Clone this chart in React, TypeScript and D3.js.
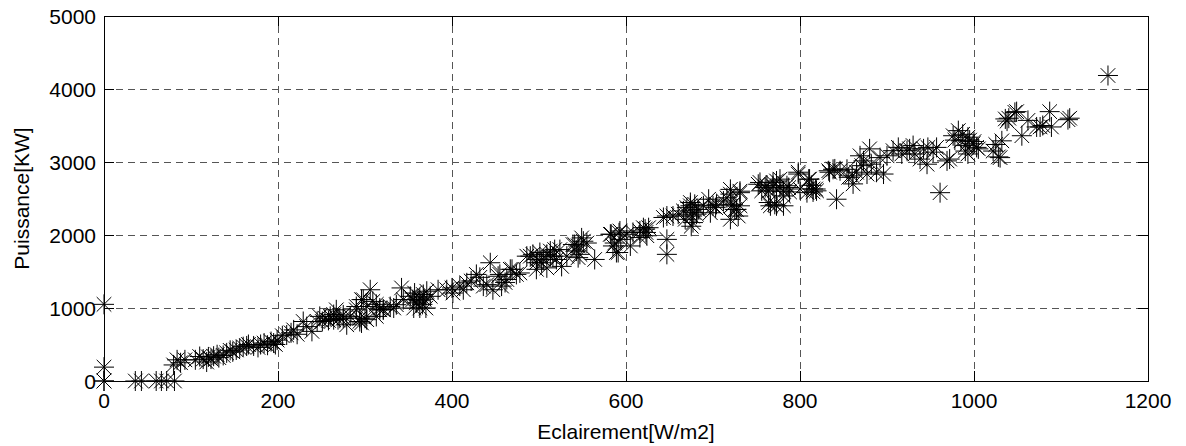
import React from "react";
import * as d3 from "d3";

const eclairement: number[] = [
  0, 0, 0, 0, 36, 43, 60, 66, 72, 81, 80, 84, 93, 88,
  105, 110, 114, 118, 120, 123, 126, 130, 132, 137, 141, 145, 148, 152, 156, 160, 164, 166, 172, 177, 180, 184, 188, 192, 195, 199, 197,
  205, 210, 215, 218, 222, 229, 233, 239, 245, 248, 251, 254, 258, 260, 264, 264, 267, 269, 271, 275, 275, 279, 283, 290, 290, 294, 294, 296, 296, 298, 300, 302, 302, 306, 309, 313, 313, 317, 317, 321, 321,
  329, 333, 336, 342, 344, 352, 355, 356, 357, 359, 363, 363, 367, 371, 375, 362, 366, 370, 368, 384, 394, 400, 401, 409, 413, 417, 422,
  428, 432, 436, 440, 444, 447, 453, 455, 457, 461, 463, 467, 469, 474, 478, 486, 490, 493, 497, 497, 498, 501, 503, 505, 509, 509, 513, 513, 516, 518, 520, 524, 526, 532,
  539, 541, 543, 545, 545, 547, 549, 551, 555, 564, 582, 583, 585, 587, 589, 591, 592, 593, 594, 601, 605, 608, 616, 616, 620, 622, 623, 624, 626, 643, 647, 647, 647,
  654, 660, 666, 668, 670, 674, 674, 675, 676, 677, 677, 679, 681, 683, 689, 695, 697, 700, 703, 704, 712, 716, 720, 720, 720, 721, 723, 725, 727, 729, 731, 731, 731,
  752, 754, 756, 760, 762, 764, 764, 766, 769, 769, 771, 773, 773, 773, 777, 777, 781, 781, 781, 785, 787, 788, 798, 798, 800, 808, 810, 811, 813, 815, 815, 818, 819,
  833, 834, 838, 840, 842, 846, 854, 856, 860, 861, 865, 869, 871, 873, 877, 880, 882, 888, 892, 896, 900, 907, 913, 917, 923, 926, 930, 932, 938, 942, 946, 947, 953, 957, 961, 969, 976, 982, 985, 990, 993, 999, 1003, 990, 995, 1000, 978, 987, 972, 993, 1005,
  1022, 1025, 1028, 1030, 1032, 1036, 1038, 1040, 1047, 1049, 1055, 1062, 1072, 1076, 1079, 1087, 1089, 1108, 1110, 1154,
];

const puissance: number[] = [
  0, 0, 190, 1050, 0, 0, 0, 0, 0, 0, 220, 290, 290, 250,
  290, 335, 300, 260, 330, 300, 340, 360, 320, 350, 385, 420, 400, 425, 450, 470, 480, 500, 480, 460, 500, 520, 490, 540, 520, 560, 500,
  620, 630, 660, 700, 640, 815, 745, 680, 815, 885, 815, 860, 830, 885, 840, 910, 975, 840, 860, 905, 860, 770, 885, 975, 1020, 815, 860, 795, 1115, 1115, 860, 840, 1020, 1250, 1090, 885, 1050, 975, 1000, 975, 980,
  1020, 1000, 1045, 1275, 1115, 1160, 1115, 1000, 1205, 1070, 1140, 1000, 1185, 1230, 1160, 1100, 1050, 1000, 1120, 1250, 1250, 1275, 1205, 1300, 1250, 1345, 1370,
  1460, 1420, 1300, 1320, 1620, 1250, 1435, 1460, 1300, 1350, 1390, 1530, 1530, 1460, 1480, 1710, 1710, 1735, 1530, 1620, 1665, 1760, 1620, 1665, 1550, 1735, 1780, 1710, 1710, 1800, 1665, 1800, 1570, 1710,
  1870, 1870, 1780, 1850, 1690, 1735, 1960, 1915, 1890, 1665, 2010, 2010, 1850, 1890, 1760, 1760, 2030, 2055, 1940, 2010, 1850, 2035, 1965, 2055, 2100, 2080, 2035, 1990, 2100, 2240, 1940, 1735, 2260,
  2260, 2285, 2330, 2215, 2375, 2445, 2400, 2120, 2260, 2170, 2310, 2420, 2285, 2350, 2400, 2490, 2305, 2400, 2375, 2420, 2465, 2510, 2560, 2625, 2215, 2400, 2420, 2350, 2350, 2260, 2600, 2580, 2400,
  2695, 2720, 2605, 2650, 2675, 2600, 2445, 2400, 2675, 2720, 2420, 2740, 2630, 2400, 2650, 2765, 2600, 2535, 2400, 2675, 2650, 2590, 2835, 2860, 2630, 2580, 2765, 2765, 2680, 2630, 2590, 2630, 2605,
  2880, 2860, 2900, 2905, 2490, 2880, 2900, 2790, 2810, 2700, 2860, 3085, 2950, 3015, 2835, 3180, 2970, 2860, 3060, 2835, 3085, 3155, 3200, 3110, 3155, 3180, 3225, 3110, 3040, 3180, 2970, 3200, 3135, 3200, 2580, 3015, 3360, 3430, 3290, 3225, 3340, 3250, 3200, 3150, 3300, 3280, 3300, 3380, 3040, 3110, 3180,
  3150, 3240, 3070, 3060, 3290, 3590, 3560, 3600, 3680, 3690, 3360, 3570, 3480, 3480, 3500, 3690, 3480, 3580, 3600, 4185,
];

const xTicks: number[] = [0, 200, 400, 600, 800, 1000, 1200];
const yTicks: number[] = [0, 1000, 2000, 3000, 4000, 5000];
const xLabel = "Eclairement[W/m2]";
const yLabel = "Puissance[KW]";

const W = 1186;
const H = 446;
const L = 104, R = 1148, T = 16, B = 381;
const FONT = "'Liberation Sans', Arial, Helvetica, sans-serif";
const FS = 21;

export default function App() {
  const x = d3.scaleLinear().domain([0, 1200]).range([L, R]);
  const y = d3.scaleLinear().domain([0, 5000]).range([B, T]);
  const tl = 10;
  const pts = eclairement.map((e, i) => [e, puissance[i]] as [number, number]);
  const a = 10, d = 7.3;
  return (
    <svg width={W} height={H} style={{ position: "absolute", left: 0, top: 0, background: "#fff" }}>
      <rect x={0} y={0} width={W} height={H} fill="#fff" />
      <g stroke="#555" strokeWidth={1} strokeDasharray="7,5" fill="none">
        {xTicks.slice(1, -1).map((t) => (
          <line key={"gx" + t} x1={Math.round(x(t)) + 0.5} x2={Math.round(x(t)) + 0.5} y1={B} y2={T} />
        ))}
        {yTicks.slice(1, -1).map((t) => (
          <line key={"gy" + t} x1={L} x2={R} y1={Math.round(y(t)) + 0.5} y2={Math.round(y(t)) + 0.5} />
        ))}
      </g>
      <g stroke="#000" strokeWidth={1}>
        {xTicks.map((t) => {
          const px = Math.round(x(t)) + 0.5;
          return (
            <g key={"tx" + t}>
              <line x1={px} x2={px} y1={B} y2={B - tl} />
              <line x1={px} x2={px} y1={T} y2={T + tl} />
            </g>
          );
        })}
        {yTicks.map((t) => {
          const py = Math.round(y(t)) + 0.5;
          return (
            <g key={"ty" + t}>
              <line x1={L} x2={L + tl} y1={py} y2={py} />
              <line x1={R} x2={R - tl} y1={py} y2={py} />
            </g>
          );
        })}
      </g>
      <rect x={L + 0.5} y={T + 0.5} width={R - L} height={B - T} fill="none" stroke="#000" strokeWidth={1} />
      <g stroke="#000" strokeWidth={1} fill="none">
        {pts.map(([e, p], i) => {
          const cx = x(e), cy = y(p);
          return (
            <path
              key={i}
              d={`M${cx - a},${cy}H${cx + a}M${cx},${cy - a}V${cy + a}M${cx - d},${cy - d}L${cx + d},${cy + d}M${cx - d},${cy + d}L${cx + d},${cy - d}`}
            />
          );
        })}
      </g>
      <g fontFamily={FONT} fontSize={FS} fill="#000">
        {xTicks.map((t) => (
          <text key={"lx" + t} x={x(t)} y={B + 27} textAnchor="middle">{t}</text>
        ))}
        {yTicks.map((t) => (
          <text key={"ly" + t} x={L - 8} y={y(t) + 7.5} textAnchor="end">{t}</text>
        ))}
        <text x={(L + R) / 2} y={439} textAnchor="middle">{xLabel}</text>
        <text transform={`translate(29,${(T + B) / 2}) rotate(-90)`} textAnchor="middle">{yLabel}</text>
      </g>
    </svg>
  );
}
